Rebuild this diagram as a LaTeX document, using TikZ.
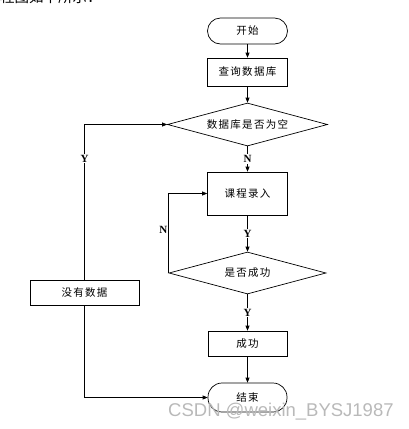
\documentclass[tikz,border=0pt]{standalone}
\usepackage{fontspec}
\setmainfont{Liberation Serif}
\newfontfamily\cjk[LetterSpace=12]{Noto Sans CJK SC}
\newfontfamily\cjkplain{Noto Sans CJK SC}
\newfontfamily\markfont{Liberation Sans}
\usepackage{xcolor}
\colorlet{colLine}{black}
\colorlet{colMark}{gray!55}
\usepackage{tikz}
\usetikzlibrary{arrows.meta, shapes.geometric}

\begin{document}
\begin{tikzpicture}[x=1pt, y=-1pt,
		box/.style={draw=colLine, line width=0.7pt, minimum width=80pt, minimum height=28pt, inner sep=0pt, font=\cjk\fontsize{10.5}{12}\selectfont},
		term/.style={box, rounded corners=13pt},
		test/.style={box, diamond, aspect=3.7, minimum width=160pt, minimum height=43pt},
		lbl/.style={font=\bfseries\fontsize{11}{12}\selectfont, fill=white, inner sep=1pt},
		arr/.style={-{Triangle[length=5pt, width=4pt]}, line width=0.7pt, draw=colLine}]
	\useasboundingbox (0,0) rectangle (409,429);
	\node[font=\cjkplain\fontsize{14.5}{16}\selectfont, anchor=base west, inner sep=0pt] (intro) at (0,2.5) {程图如下所示：};
	% main column
	\node[term, minimum height=26pt] (start) at (247.5,31) {开始};
	\node[box] (query) at (247.5,72) {查询数据库};
	\node[test] (isempty) at (247.5,124.5) {数据库是否为空};
	\node[box, minimum height=43pt] (course) at (247.5,193.5) {课程录入};
	\node[test, minimum width=157pt, minimum height=42pt] (issuccess) at (247.5,273) {是否成功};
	\node[box, minimum width=79pt, minimum height=25pt] (success) at (247.5,343.5) {成功};
	\node[term, minimum width=79pt, minimum height=29pt, rounded corners=14pt] (end) at (247.5,397.5) {结束};
	% left branch
	\node[box, minimum width=109pt, minimum height=25pt] (nodata) at (84.5,292.5) {没有数据};
	\draw[arr] (start) -- (query);
	\draw[arr] (query) -- (isempty);
	\draw[arr] (isempty) -- node[lbl] {N} (course);
	\draw[arr] (course) -- node[lbl] {Y} (issuccess);
	\draw[arr] (issuccess) -- node[lbl] {Y} (success);
	\draw[arr] (success) -- (end);
	\draw[arr] (nodata) |- node[lbl, pos=0.39] {Y} (isempty);
	\draw[arr] (nodata) |- (end);
	\draw[arr] (issuccess.west) |- node[lbl, fill=none, left, pos=0.27] {N} (course);
	\node[font=\markfont\fontsize{18.5}{20}\selectfont, text=colMark, anchor=base west, inner sep=0pt] (mark) at (168,416) {CSDN @weixin\_BYSJ1987};
\end{tikzpicture}
\end{document}
